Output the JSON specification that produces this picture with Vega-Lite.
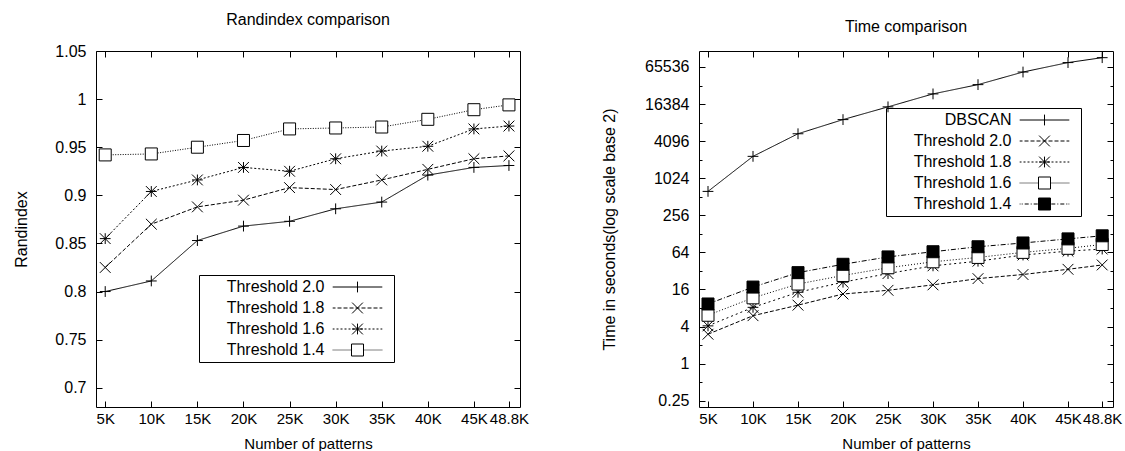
{
  "$schema": "https://vega.github.io/schema/vega-lite/v6.json",
  "background": "white",
  "padding": {"left": 13, "top": 11, "right": 0, "bottom": 0},
  "spacing": 71,
  "config": {
    "font": "Liberation Sans",
    "view": {"stroke": "black", "strokeWidth": 1},
    "axis": {"domain": false, "grid": false, "ticks": true, "tickColor": "black", "tickWidth": 1, "tickSize": -6, "labelFont": "Liberation Sans", "labelColor": "black", "titleFont": "Liberation Sans", "titleColor": "black", "titleFontWeight": "normal", "labelFlush": false, "labelOverlap": false, "labelBound": false},
    "axisX": {"labelPadding": 10.5, "titlePadding": 9.5, "labelFontSize": 15, "titleFontSize": 15},
    "axisY": {"labelPadding": 16, "labelFontSize": 16, "titleFontSize": 16},
    "title": {"fontSize": 16, "fontWeight": "normal", "font": "Liberation Sans", "color": "black"}
  },
  "resolve": {"scale": {"shape": "independent", "fill": "independent", "strokeDash": "independent"}, "legend": {"shape": "independent", "fill": "independent", "strokeDash": "independent"}},
  "hconcat": [
    {
      "width": 424,
      "height": 356,
      "title": {"text": "Randindex comparison", "offset": 15, "frame": "group"},
      "data": {"values": [
        {"series": "Threshold 2.0", "patterns": 5000, "randindex": 0.800},
        {"series": "Threshold 2.0", "patterns": 10000, "randindex": 0.811},
        {"series": "Threshold 2.0", "patterns": 15000, "randindex": 0.853},
        {"series": "Threshold 2.0", "patterns": 20000, "randindex": 0.868},
        {"series": "Threshold 2.0", "patterns": 25000, "randindex": 0.873},
        {"series": "Threshold 2.0", "patterns": 30000, "randindex": 0.886},
        {"series": "Threshold 2.0", "patterns": 35000, "randindex": 0.893},
        {"series": "Threshold 2.0", "patterns": 40000, "randindex": 0.921},
        {"series": "Threshold 2.0", "patterns": 45000, "randindex": 0.929},
        {"series": "Threshold 2.0", "patterns": 48800, "randindex": 0.931},
        {"series": "Threshold 1.8", "patterns": 5000, "randindex": 0.825},
        {"series": "Threshold 1.8", "patterns": 10000, "randindex": 0.870},
        {"series": "Threshold 1.8", "patterns": 15000, "randindex": 0.888},
        {"series": "Threshold 1.8", "patterns": 20000, "randindex": 0.895},
        {"series": "Threshold 1.8", "patterns": 25000, "randindex": 0.908},
        {"series": "Threshold 1.8", "patterns": 30000, "randindex": 0.906},
        {"series": "Threshold 1.8", "patterns": 35000, "randindex": 0.916},
        {"series": "Threshold 1.8", "patterns": 40000, "randindex": 0.927},
        {"series": "Threshold 1.8", "patterns": 45000, "randindex": 0.938},
        {"series": "Threshold 1.8", "patterns": 48800, "randindex": 0.941},
        {"series": "Threshold 1.6", "patterns": 5000, "randindex": 0.855},
        {"series": "Threshold 1.6", "patterns": 10000, "randindex": 0.904},
        {"series": "Threshold 1.6", "patterns": 15000, "randindex": 0.916},
        {"series": "Threshold 1.6", "patterns": 20000, "randindex": 0.929},
        {"series": "Threshold 1.6", "patterns": 25000, "randindex": 0.925},
        {"series": "Threshold 1.6", "patterns": 30000, "randindex": 0.938},
        {"series": "Threshold 1.6", "patterns": 35000, "randindex": 0.946},
        {"series": "Threshold 1.6", "patterns": 40000, "randindex": 0.951},
        {"series": "Threshold 1.6", "patterns": 45000, "randindex": 0.969},
        {"series": "Threshold 1.6", "patterns": 48800, "randindex": 0.972},
        {"series": "Threshold 1.4", "patterns": 5000, "randindex": 0.942},
        {"series": "Threshold 1.4", "patterns": 10000, "randindex": 0.943},
        {"series": "Threshold 1.4", "patterns": 15000, "randindex": 0.950},
        {"series": "Threshold 1.4", "patterns": 20000, "randindex": 0.957},
        {"series": "Threshold 1.4", "patterns": 25000, "randindex": 0.969},
        {"series": "Threshold 1.4", "patterns": 30000, "randindex": 0.970},
        {"series": "Threshold 1.4", "patterns": 35000, "randindex": 0.971},
        {"series": "Threshold 1.4", "patterns": 40000, "randindex": 0.979},
        {"series": "Threshold 1.4", "patterns": 45000, "randindex": 0.989},
        {"series": "Threshold 1.4", "patterns": 48800, "randindex": 0.994}
      ]},
      "layer": [
        {
          "mark": {"type": "line", "stroke": "black", "strokeWidth": 1},
          "encoding": {
            "x": {"field": "patterns", "type": "quantitative", "scale": {"domain": [4000, 50000], "nice": false, "zero": false},
                  "axis": {"orient": "bottom", "values": [5000, 10000, 15000, 20000, 25000, 30000, 35000, 40000, 45000, 48800], "labelExpr": "datum.value / 1000 + 'K'", "title": "Number of patterns"}},
            "y": {"field": "randindex", "type": "quantitative", "scale": {"domain": [0.68, 1.05], "nice": false, "zero": false},
                  "axis": {"orient": "left", "values": [0.7, 0.75, 0.8, 0.85, 0.9, 0.95, 1, 1.05], "labelExpr": "'' + datum.value", "title": "Randindex", "titlePadding": 25}},
            "strokeDash": {"field": "series", "type": "nominal", "scale": {"domain": ["Threshold 2.0", "Threshold 1.8", "Threshold 1.6", "Threshold 1.4"], "range": [[1, 0], [4, 2], [2, 2], [1, 1.5]]}, "legend": null}
          }
        },
        {
          "mark": {"type": "point", "stroke": "black", "strokeWidth": 1, "opacity": 1, "size": 64},
          "encoding": {
            "x": {"field": "patterns", "type": "quantitative", "axis": {"orient": "top", "values": [5000, 10000, 15000, 20000, 25000, 30000, 35000, 40000, 45000, 48800], "labels": false, "title": null}},
            "y": {"field": "randindex", "type": "quantitative", "axis": {"orient": "right", "values": [0.7, 0.75, 0.8, 0.85, 0.9, 0.95, 1, 1.05], "labels": false, "title": null}},
            "shape": {"field": "series", "type": "nominal", "scale": {"domain": ["Threshold 2.0", "Threshold 1.8", "Threshold 1.6", "Threshold 1.4"], "range": ["M-1.35,0H1.35M0,-1.35V1.35", "M-1.35,-1.35L1.35,1.35M-1.35,1.35L1.35,-1.35", "M-1.35,0H1.35M0,-1.35V1.35M-1.35,-1.35L1.35,1.35M-1.35,1.35L1.35,-1.35", "M-1.5,-1.5H1.5V1.5H-1.5Z"]}, "legend": null},
            "fill": {"field": "series", "type": "nominal", "scale": {"domain": ["Threshold 2.0", "Threshold 1.8", "Threshold 1.6", "Threshold 1.4"], "range": ["transparent", "transparent", "transparent", "white"]}, "legend": null}
          }
        },
        {
          "transform": [{"filter": "false"}],
          "mark": {"type": "point", "stroke": "black", "strokeWidth": 1, "filled": false, "opacity": 1, "size": 64},
          "encoding": {
            "shape": {"field": "series", "type": "nominal", "scale": {"domain": ["Threshold 2.0", "Threshold 1.8", "Threshold 1.6", "Threshold 1.4"], "range": [
              "M-6.2,0H6.2M0,-1.35V1.35M7.4,0",
              "M-6.2,0H-5.5M-5,0H-4M-3.5,0H-2.5M-2,0H-1M-0.5,0H0.5M1,0H2M2.5,0H3.5M4,0H5M5.5,0H6.2M-1.35,-1.35L1.35,1.35M-1.35,1.35L1.35,-1.35M7.4,0",
              "M-6.2,0H-5.75M-5.25,0H-4.75M-4.25,0H-3.75M-3.25,0H-2.75M-2.25,0H-1.75M-1.25,0H-0.75M-0.25,0H0.25M0.75,0H1.25M1.75,0H2.25M2.75,0H3.25M3.75,0H4.25M4.75,0H5.25M5.75,0H6.2M-1.35,0H1.35M0,-1.35V1.35M-1.35,-1.35L1.35,1.35M-1.35,1.35L1.35,-1.35M7.4,0",
              "M-6.2,0H-6M-5.75,0H-5.5M-5.25,0H-5M-4.75,0H-4.5M-4.25,0H-4M-3.75,0H-3.5M-3.25,0H-3M-2.75,0H-2.5M-2.25,0H-2M-1.75,0H-1.6M1.6,0H1.75M2,0H2.25M2.5,0H2.75M3,0H3.25M3.5,0H3.75M4,0H4.25M4.5,0H4.75M5,0H5.25M5.5,0H5.75M6,0H6.2M-1.5,-1.5H1.5V1.5H-1.5ZM7.4,0"
            ]}, "legend": {"orient": "none", "legendX": 103, "legendY": 224, "title": null, "strokeColor": "black", "padding": 4, "labelFontSize": 16, "labelFont": "Liberation Sans", "labelColor": "black", "labelAlign": "right", "labelOffset": -41, "symbolOffset": 146.5, "symbolSize": 64, "symbolStrokeColor": "black", "symbolFillColor": "transparent", "symbolStrokeWidth": 1, "symbolOpacity": 1, "rowPadding": 5, "labelLimit": 300}}
          }
        }
      ],
      "resolve": {"scale": {"shape": "independent", "fill": "independent"}, "axis": {"x": "independent", "y": "independent"}, "legend": {"shape": "independent", "fill": "independent"}}
    },
    {
      "width": 414,
      "height": 356,
      "title": {"text": "Time comparison", "offset": 15, "frame": "group"},
      "data": {"values": [
        {"series": "DBSCAN", "patterns": 5000, "time": 626},
        {"series": "DBSCAN", "patterns": 10000, "time": 2320},
        {"series": "DBSCAN", "patterns": 15000, "time": 5400},
        {"series": "DBSCAN", "patterns": 20000, "time": 9170},
        {"series": "DBSCAN", "patterns": 25000, "time": 14760},
        {"series": "DBSCAN", "patterns": 30000, "time": 23960},
        {"series": "DBSCAN", "patterns": 35000, "time": 33900},
        {"series": "DBSCAN", "patterns": 40000, "time": 54300},
        {"series": "DBSCAN", "patterns": 45000, "time": 77300},
        {"series": "DBSCAN", "patterns": 48800, "time": 92900},
        {"series": "Threshold 2.0", "patterns": 5000, "time": 3.0},
        {"series": "Threshold 2.0", "patterns": 10000, "time": 6.0},
        {"series": "Threshold 2.0", "patterns": 15000, "time": 8.9},
        {"series": "Threshold 2.0", "patterns": 20000, "time": 13.5},
        {"series": "Threshold 2.0", "patterns": 25000, "time": 15.5},
        {"series": "Threshold 2.0", "patterns": 30000, "time": 19},
        {"series": "Threshold 2.0", "patterns": 35000, "time": 24},
        {"series": "Threshold 2.0", "patterns": 40000, "time": 28},
        {"series": "Threshold 2.0", "patterns": 45000, "time": 34},
        {"series": "Threshold 2.0", "patterns": 48800, "time": 40},
        {"series": "Threshold 1.8", "patterns": 5000, "time": 4.1},
        {"series": "Threshold 1.8", "patterns": 10000, "time": 8.2},
        {"series": "Threshold 1.8", "patterns": 15000, "time": 14.4},
        {"series": "Threshold 1.8", "patterns": 20000, "time": 21},
        {"series": "Threshold 1.8", "patterns": 25000, "time": 29},
        {"series": "Threshold 1.8", "patterns": 30000, "time": 38.7},
        {"series": "Threshold 1.8", "patterns": 35000, "time": 46},
        {"series": "Threshold 1.8", "patterns": 40000, "time": 58},
        {"series": "Threshold 1.8", "patterns": 45000, "time": 67},
        {"series": "Threshold 1.8", "patterns": 48800, "time": 72.5},
        {"series": "Threshold 1.6", "patterns": 5000, "time": 6.1},
        {"series": "Threshold 1.6", "patterns": 10000, "time": 11.7},
        {"series": "Threshold 1.6", "patterns": 15000, "time": 19.6},
        {"series": "Threshold 1.6", "patterns": 20000, "time": 27},
        {"series": "Threshold 1.6", "patterns": 25000, "time": 36},
        {"series": "Threshold 1.6", "patterns": 30000, "time": 45},
        {"series": "Threshold 1.6", "patterns": 35000, "time": 53},
        {"series": "Threshold 1.6", "patterns": 40000, "time": 64},
        {"series": "Threshold 1.6", "patterns": 45000, "time": 74.5},
        {"series": "Threshold 1.6", "patterns": 48800, "time": 86},
        {"series": "Threshold 1.4", "patterns": 5000, "time": 9.3},
        {"series": "Threshold 1.4", "patterns": 10000, "time": 17.5},
        {"series": "Threshold 1.4", "patterns": 15000, "time": 30},
        {"series": "Threshold 1.4", "patterns": 20000, "time": 41},
        {"series": "Threshold 1.4", "patterns": 25000, "time": 54},
        {"series": "Threshold 1.4", "patterns": 30000, "time": 65.6},
        {"series": "Threshold 1.4", "patterns": 35000, "time": 79},
        {"series": "Threshold 1.4", "patterns": 40000, "time": 91},
        {"series": "Threshold 1.4", "patterns": 45000, "time": 106},
        {"series": "Threshold 1.4", "patterns": 48800, "time": 119}
      ]},
      "layer": [
        {
          "mark": {"type": "line", "stroke": "black", "strokeWidth": 1},
          "encoding": {
            "x": {"field": "patterns", "type": "quantitative", "scale": {"domain": [4000, 50000], "nice": false, "zero": false},
                  "axis": {"orient": "bottom", "values": [5000, 10000, 15000, 20000, 25000, 30000, 35000, 40000, 45000, 48800], "labelExpr": "datum.value / 1000 + 'K'", "title": "Number of patterns"}},
            "y": {"field": "time", "type": "quantitative", "scale": {"type": "log", "base": 2, "domain": [0.1975, 119200], "nice": false, "zero": false},
                  "axis": {"orient": "left", "values": [0.25, 0.5, 1, 2, 4, 8, 16, 32, 64, 128, 256, 512, 1024, 2048, 4096, 8192, 16384, 32768, 65536], "labelExpr": "round(log(datum.value) / LN2) % 2 == 0 ? '' + datum.value : ''", "tickSize": {"condition": {"test": "round(log(datum.value) / LN2) % 2 != 0", "value": -3}, "value": -6}, "title": "Time in seconds(log scale base 2)", "titlePadding": 27}},
            "strokeDash": {"field": "series", "type": "nominal", "scale": {"domain": ["DBSCAN", "Threshold 2.0", "Threshold 1.8", "Threshold 1.6", "Threshold 1.4"], "range": [[1, 0], [4, 2], [2, 3], [1, 2], [5, 2, 1, 2]]}, "legend": null}
          }
        },
        {
          "mark": {"type": "point", "stroke": "black", "strokeWidth": 1, "opacity": 1, "size": 64},
          "encoding": {
            "x": {"field": "patterns", "type": "quantitative", "axis": {"orient": "top", "values": [5000, 10000, 15000, 20000, 25000, 30000, 35000, 40000, 45000, 48800], "labels": false, "title": null}},
            "y": {"field": "time", "type": "quantitative", "axis": {"orient": "right", "values": [0.25, 0.5, 1, 2, 4, 8, 16, 32, 64, 128, 256, 512, 1024, 2048, 4096, 8192, 16384, 32768, 65536], "labels": false, "title": null, "tickSize": {"condition": {"test": "round(log(datum.value) / LN2) % 2 != 0", "value": -3}, "value": -6}}},
            "shape": {"field": "series", "type": "nominal", "scale": {"domain": ["DBSCAN", "Threshold 2.0", "Threshold 1.8", "Threshold 1.6", "Threshold 1.4"], "range": ["M-1.35,0H1.35M0,-1.35V1.35", "M-1.35,-1.35L1.35,1.35M-1.35,1.35L1.35,-1.35", "M-1.35,0H1.35M0,-1.35V1.35M-1.35,-1.35L1.35,1.35M-1.35,1.35L1.35,-1.35", "M-1.5,-1.5H1.5V1.5H-1.5Z", "M-1.5,-1.5H1.5V1.5H-1.5Z"]}, "legend": null},
            "fill": {"field": "series", "type": "nominal", "scale": {"domain": ["DBSCAN", "Threshold 2.0", "Threshold 1.8", "Threshold 1.6", "Threshold 1.4"], "range": ["transparent", "transparent", "transparent", "white", "black"]}, "legend": null}
          }
        },
        {
          "transform": [{"filter": "false"}],
          "mark": {"type": "point", "stroke": "black", "strokeWidth": 1, "filled": false, "opacity": 1, "size": 64},
          "encoding": {
            "shape": {"field": "series", "type": "nominal", "scale": {"domain": ["DBSCAN", "Threshold 2.0", "Threshold 1.8", "Threshold 1.6", "Threshold 1.4"], "range": [
              "M-6.2,0H6.2M0,-1.35V1.35M7.4,0",
              "M-6.2,0H-5.5M-5,0H-4M-3.5,0H-2.5M-2,0H-1M-0.5,0H0.5M1,0H2M2.5,0H3.5M4,0H5M5.5,0H6.2M-1.35,-1.35L1.35,1.35M-1.35,1.35L1.35,-1.35M7.4,0",
              "M-6.2,0H-5.75M-5.25,0H-4.75M-4.25,0H-3.75M-3.25,0H-2.75M-2.25,0H-1.75M-1.25,0H-0.75M-0.25,0H0.25M0.75,0H1.25M1.75,0H2.25M2.75,0H3.25M3.75,0H4.25M4.75,0H5.25M5.75,0H6.2M-1.35,0H1.35M0,-1.35V1.35M-1.35,-1.35L1.35,1.35M-1.35,1.35L1.35,-1.35M7.4,0",
              "M-6.2,0H-6M-5.75,0H-5.5M-5.25,0H-5M-4.75,0H-4.5M-4.25,0H-4M-3.75,0H-3.5M-3.25,0H-3M-2.75,0H-2.5M-2.25,0H-2M-1.75,0H-1.6M1.6,0H1.75M2,0H2.25M2.5,0H2.75M3,0H3.25M3.5,0H3.75M4,0H4.25M4.5,0H4.75M5,0H5.25M5.5,0H5.75M6,0H6.2M-1.5,-1.5H1.5V1.5H-1.5ZM7.4,0",
              "M-6.2,0H-6M-5.7,0H-5.45M-4.95,0H-3.95M-3.45,0H-3.2M-2.7,0H-1.7M1.7,0H2.7M3.2,0H3.45M3.95,0H4.95M5.45,0H5.7M6,0H6.2M-1.5,-1.5H1.5V1.5H-1.5ZM-1.5,-1.375H1.5M-1.5,-1.25H1.5M-1.5,-1.125H1.5M-1.5,-1H1.5M-1.5,-0.875H1.5M-1.5,-0.75H1.5M-1.5,-0.625H1.5M-1.5,-0.5H1.5M-1.5,-0.375H1.5M-1.5,-0.25H1.5M-1.5,-0.125H1.5M-1.5,0H1.5M-1.5,0.125H1.5M-1.5,0.25H1.5M-1.5,0.375H1.5M-1.5,0.5H1.5M-1.5,0.625H1.5M-1.5,0.75H1.5M-1.5,0.875H1.5M-1.5,1H1.5M-1.5,1.125H1.5M-1.5,1.25H1.5M-1.5,1.375H1.5M7.4,0"
            ]}, "legend": {"orient": "none", "legendX": 187, "legendY": 57, "title": null, "strokeColor": "black", "padding": 4, "labelFontSize": 16, "labelFont": "Liberation Sans", "labelColor": "black", "labelAlign": "right", "labelOffset": -41, "symbolOffset": 146.5, "symbolSize": 64, "symbolStrokeColor": "black", "symbolFillColor": "transparent", "symbolStrokeWidth": 1, "symbolOpacity": 1, "rowPadding": 5, "labelLimit": 300}}
          }
        }
      ],
      "resolve": {"scale": {"shape": "independent", "fill": "independent"}, "axis": {"x": "independent", "y": "independent"}, "legend": {"shape": "independent", "fill": "independent"}}
    }
  ]
}
